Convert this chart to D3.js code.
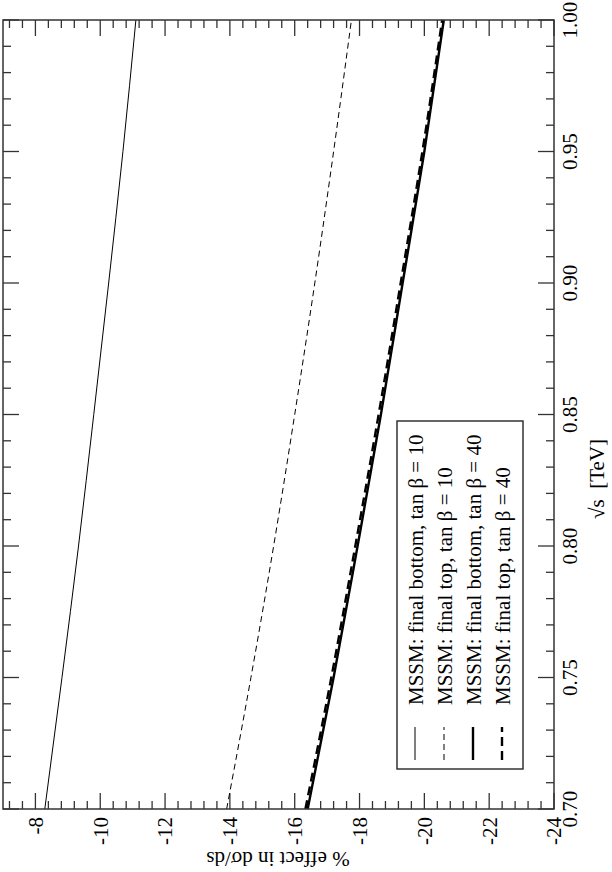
<!DOCTYPE html>
<html>
<head>
<meta charset="utf-8">
<script src="https://cdn.jsdelivr.net/npm/d3@7"></script>
<style>
  body { margin: 0; background: #fff; }
</style>
</head>
<body>
<svg id="chart" width="612" height="872" font-family="'Liberation Serif', 'Times New Roman', Times, 'DejaVu Serif', serif"></svg>
<script>
'use strict';

// sqrt(s) in TeV, and % effect in dsigma/ds for each curve
const sqrtS = [0.70, 0.75, 0.80, 0.85, 0.90, 0.95, 1.00];
const bottomTb10 = [-8.29, -8.82, -9.33, -9.80, -10.26, -10.70, -11.10];
const topTb10 = [-13.90, -14.65, -15.35, -16.00, -16.62, -17.20, -17.75];
const bottomTb40 = [-16.40, -17.20, -17.94, -18.66, -19.33, -20.00, -20.60];
const topTb40 = [-16.33, -17.13, -17.87, -18.59, -19.27, -19.94, -20.55];

const effectTicks = [-8, -10, -12, -14, -16, -18, -20, -22, -24];
const sqrtTicks = [0.70, 0.75, 0.80, 0.85, 0.90, 0.95, 1.00];

const legendLabels = [
    'MSSM: final bottom, tan \u03B2 = 10',
    'MSSM: final top, tan \u03B2 = 10',
    'MSSM: final bottom, tan \u03B2 = 40',
    'MSSM: final top, tan \u03B2 = 40'
];

// the plot is drawn turned a quarter: effect runs left->right, sqrt(s) bottom->top
const plotLeft = 3, plotRight = 554, plotTop = 20, plotBottom = 809;

let svg = d3.select('#chart');

let x = d3.scaleLinear().domain([-7, -24]).range([plotLeft, plotRight]);
let y = d3.scaleLinear().domain([0.70, 1.00]).range([plotBottom, plotTop]);

let series = [
    { values: bottomTb10, width: 1, dash: null },
    { values: topTb10, width: 1, dash: '6,4' },
    { values: bottomTb40, width: 2.4, dash: null },
    { values: topTb40, width: 2.4, dash: '9,5' }
];

// ticks
let axisColor = '#333';
let g = svg.append('g').attr('stroke', axisColor).attr('stroke-width', 1.3);

let minorEffect = d3.range(-7.2, -24.01, -0.4);
let minorSqrt = d3.range(0.70, 1.001, 0.01);

minorEffect.forEach(v => {
    let major = effectTicks.some(t => Math.abs(t - v) < 1e-6);
    let len = major ? 16 : 8;
    g.append('line').attr('x1', x(v)).attr('x2', x(v)).attr('y1', plotTop).attr('y2', plotTop + len);
    g.append('line').attr('x1', x(v)).attr('x2', x(v)).attr('y1', plotBottom).attr('y2', plotBottom - len);
});

minorSqrt.forEach(v => {
    let major = sqrtTicks.some(t => Math.abs(t - v) < 1e-6);
    let len = major ? 16 : 8;
    g.append('line').attr('x1', plotLeft).attr('x2', plotLeft + len).attr('y1', y(v)).attr('y2', y(v));
    g.append('line').attr('x1', plotRight).attr('x2', plotRight - len).attr('y1', y(v)).attr('y2', y(v));
});

// curves
let line = d3.line()
    .x(d => x(d[1]))
    .y(d => y(d[0]))
    .curve(d3.curveMonotoneY);

series.forEach(s => {
    svg.append('path')
        .attr('d', line(sqrtS.map((v, i) => [v, s.values[i]])))
        .attr('fill', 'none')
        .attr('stroke', '#000')
        .attr('stroke-width', s.width)
        .attr('stroke-dasharray', s.dash);
});

// frame
svg.append('rect')
    .attr('x', plotLeft).attr('y', plotTop)
    .attr('width', plotRight - plotLeft).attr('height', plotBottom - plotTop)
    .attr('fill', 'none').attr('stroke', axisColor).attr('stroke-width', 1.5);

// tick labels
effectTicks.forEach(t => {
    svg.append('text')
        .attr('transform', `translate(${x(t)},${plotBottom + 8}) rotate(-90)`)
        .attr('text-anchor', 'end')
        .attr('dy', '0.35em')
        .attr('font-size', 21)
        .text(t);
});

sqrtTicks.forEach(t => {
    svg.append('text')
        .attr('transform', `translate(${plotRight + 16},${y(t)}) rotate(-90)`)
        .attr('text-anchor', 'middle')
        .attr('dy', '0.35em')
        .attr('font-size', 21)
        .text(t.toFixed(2));
});

// axis titles
svg.append('text')
    .attr('transform', `translate(597,479) rotate(-90)`)
    .attr('text-anchor', 'middle')
    .attr('dy', '0.35em')
    .attr('font-size', 21)
    .text('\u221As\u00A0\u00A0[TeV]');

svg.append('text')
    .attr('transform', `translate(278,852) rotate(180)`)
    .attr('text-anchor', 'middle')
    .attr('font-size', 21)
    .text('% effect in d\u03C3/ds');

// legend
let legend = svg.append('g');
legend.append('rect')
    .attr('x', 397).attr('y', 421)
    .attr('width', 126).attr('height', 348)
    .attr('fill', '#fff').attr('stroke', axisColor).attr('stroke-width', 1.5);

series.forEach((s, i) => {
    let base = 423 + i * 29;
    legend.append('line')
        .attr('x1', base - 8).attr('x2', base - 8)
        .attr('y1', 760).attr('y2', 727)
        .attr('stroke', '#000')
        .attr('stroke-width', s.width)
        .attr('stroke-dasharray', s.dash);
    legend.append('text')
        .attr('transform', `translate(${base},705) rotate(-90)`)
        .attr('font-size', 21)
        .text(legendLabels[i]);
});
</script>
</body>
</html>
